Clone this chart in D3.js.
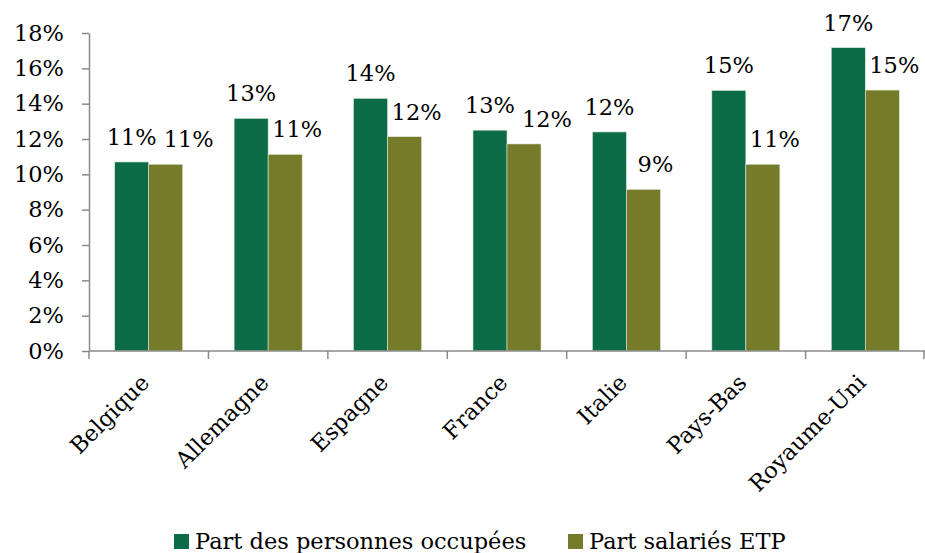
<!DOCTYPE html>
<meta charset="utf-8">
<style>
  body { margin: 0; background: #fff; }
  text { font-family: "DejaVu Serif", serif; fill: #000; }
</style>
<body>
<script src="https://d3js.org/d3.v7.min.js"></script>
<script>

// data
var countries = ["Belgique", "Allemagne", "Espagne", "France", "Italie", "Pays-Bas", "Royaume-Uni"];
var seriesNames = ["Part des personnes occupées", "Part salariés ETP"];
var personnes = [10.7, 13.17, 14.3, 12.5, 12.4, 14.75, 17.17];
var salaries = [10.57, 11.13, 12.13, 11.72, 9.15, 10.57, 14.77];
var yTicks = [0, 2, 4, 6, 8, 10, 12, 14, 16, 18];
var colors = ["#0c6c47", "#767b29"];

var width = 925,
    height = 553,
    left = 89,
    top_ = 33,
    bottom = 351,
    right = 925,
    fontSize = "22.5px";

var svg = d3.select("body")
            .append("svg")
            .attr("width", width)
            .attr("height", height);

var rows = countries.map(function(c, i) {
  return {country: c, values: [personnes[i], salaries[i]]};
});

var x = d3.scaleBand()
  .domain(countries)
  .range([left, right])
  .paddingInner(0)
  .paddingOuter(0);

var x1 = d3.scaleBand()
  .domain([0, 1])
  .range([0, x.bandwidth()])
  .paddingInner(0)
  .paddingOuter(0.755);

var y = d3.scaleLinear()
  .domain([0, 18])
  .range([bottom, top_]);

var axisColor = "#8a8a8a";

// y axis
var yAxis = svg.append("g")
  .attr("transform", "translate(" + left + ",0)")
  .call(d3.axisLeft(y)
    .tickValues(yTicks)
    .tickFormat(function(d) { return d + "%"; })
    .tickSize(7)
    .tickSizeOuter(0)
    .tickPadding(18));

yAxis.selectAll("text")
  .style("font-family", "DejaVu Serif")
  .style("font-size", fontSize);

yAxis.selectAll("line, path").attr("stroke", axisColor).attr("stroke-width", 1.5);

// bars
var groups = svg.selectAll("g.country")
  .data(rows)
  .enter().append("g")
  .attr("class", "country")
  .attr("transform", function(d) { return "translate(" + x(d.country) + ",0)"; });

groups.selectAll("rect")
  .data(function(d) { return d.values; })
  .enter().append("rect")
  .attr("x", function(d, i) { return x1(i); })
  .attr("width", x1.bandwidth())
  .attr("y", function(d) { return y(d); })
  .attr("height", function(d) { return bottom - y(d); })
  .attr("fill", function(d, i) { return colors[i]; })
  .attr("stroke", "#dfe8d8")
  .attr("stroke-width", 0.6);

// value labels; the second one is pushed right, more if it would hit the first
groups.each(function(d) {
  var g = d3.select(this);
  var labels = g.selectAll("text.val")
    .data(d.values)
    .enter().append("text")
    .attr("class", "val")
    .attr("x", function(v, i) { return x1(i) + x1.bandwidth() / 2; })
    .attr("y", function(v) { return y(v) - 17; })
    .attr("text-anchor", "middle")
    .style("font-size", fontSize)
    .text(function(v) { return Math.round(v) + "%"; });

  var n = labels.nodes();
  var w0 = n[0].getComputedTextLength(), w1 = n[1].getComputedTextLength();
  var c0 = x1(0) + x1.bandwidth() / 2, c1 = x1(1) + x1.bandwidth() / 2 + 12;
  if (Math.abs(y(d.values[0]) - y(d.values[1])) < 24) {
    c1 = Math.max(c1, c0 + w0 / 2 + 7 + w1 / 2);
  }
  d3.select(n[1]).attr("x", c1);
});

// x axis: line + ticks at category boundaries
var xAxis = svg.append("g");

xAxis.append("line")
  .attr("x1", left).attr("x2", right)
  .attr("y1", bottom).attr("y2", bottom)
  .attr("stroke", axisColor)
  .attr("stroke-width", 1.5);

xAxis.selectAll("line.tick")
  .data(countries.map(function(c) { return x(c); }).concat([right - 1]))
  .enter().append("line")
  .attr("class", "tick")
  .attr("x1", function(d) { return d; })
  .attr("x2", function(d) { return d; })
  .attr("y1", bottom)
  .attr("y2", bottom + 8)
  .attr("stroke", axisColor)
  .attr("stroke-width", 1.5);

xAxis.selectAll("text")
  .data(countries)
  .enter().append("text")
  .attr("text-anchor", "end")
  .attr("transform", function(d) {
    return "translate(" + (x(d) + x.bandwidth() / 2 + 2) + "," + (bottom + 33) + ") rotate(-45)";
  })
  .style("font-size", fontSize)
  .text(function(d) { return d; });

// legend
var legend = svg.append("g")
  .attr("transform", "translate(174,534)");

var legendX = [0, 394];

var item = legend.selectAll("g")
  .data(seriesNames)
  .enter().append("g")
  .attr("transform", function(d, i) { return "translate(" + legendX[i] + ",0)"; });

item.append("rect")
  .attr("width", 15)
  .attr("height", 15)
  .attr("fill", function(d, i) { return colors[i]; });

item.append("text")
  .attr("x", 21)
  .attr("y", 15)
  .style("font-size", fontSize)
  .text(function(d) { return d; });

</script>
